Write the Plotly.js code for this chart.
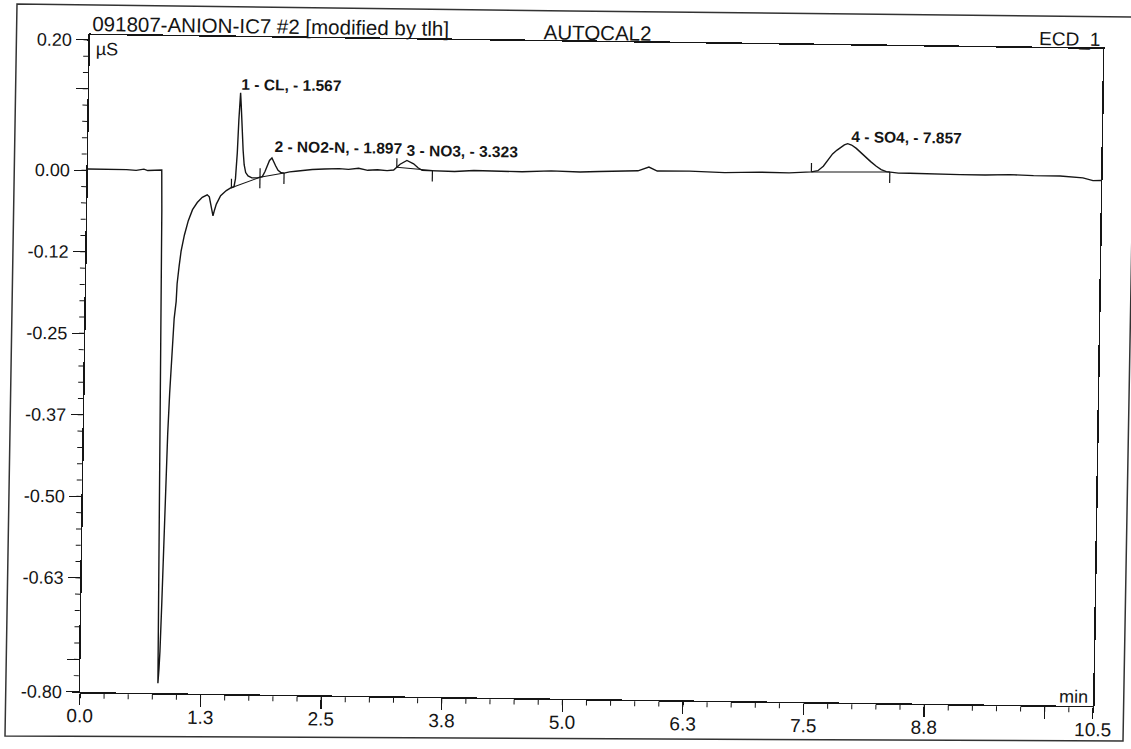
<!DOCTYPE html>
<html>
<head>
<meta charset="utf-8">
<script src="https://cdn.plot.ly/plotly-3.0.1.min.js"></script>
<style>
  html, body { margin: 0; padding: 0; background: #ffffff; overflow: hidden; }
  #wrap { position: absolute; left: 0; top: 0; width: 1131px; height: 749px; transform-origin: 0 0;
          transform: matrix(1.001, 0.01383, -0.01515, 0.9955, 4.55, -8.01); }
  #chart { position: absolute; left: 0; top: 0; width: 1131px; height: 749px; }
  #frame { position: absolute; left: 0; top: 0; pointer-events: none; }
</style>
</head>
<body>
<div id="wrap">
  <div id="chart"></div>
</div>
<svg id="frame" width="1131" height="749" xmlns="http://www.w3.org/2000/svg">
  <polyline points="1135,17 570,11 17,4 5,736 1123,741 1136,0" fill="none" stroke="#333" stroke-width="1.5"/>
</svg>
<script>
// ---- data ----
const timeMin = [
  0.00, 0.10, 0.20, 0.30, 0.40, 0.50, 0.58, 0.62, 0.70, 0.765,
  0.772, 0.785, 0.797, 0.806, 0.815, 0.822, 0.834, 0.846, 0.858, 0.868,
  0.882, 0.895, 0.917, 0.935, 0.942, 0.960, 0.978, 1.010, 1.048, 1.090,
  1.138, 1.189, 1.240, 1.262, 1.278, 1.303, 1.318, 1.336, 1.379, 1.437,
  1.482, 1.516, 1.530, 1.545, 1.556, 1.565, 1.570, 1.578, 1.590, 1.605,
  1.618, 1.635, 1.660, 1.700, 1.756, 1.808, 1.835, 1.857, 1.880, 1.905,
  1.925, 1.944, 1.970, 1.997, 2.032, 2.090, 2.153, 2.240, 2.325, 2.450,
  2.602, 2.700, 2.805, 2.900, 3.000, 3.100, 3.168, 3.234, 3.304, 3.374,
  3.420, 3.463, 3.600, 3.800, 4.000, 4.226, 4.500, 4.800, 5.100, 5.300,
  5.507, 5.700, 5.813, 5.900, 6.233, 6.600, 6.959, 7.266, 7.497, 7.564,
  7.620, 7.660, 7.714, 7.760, 7.802, 7.835, 7.869, 7.910, 7.959, 8.010,
  8.063, 8.110, 8.169, 8.220, 8.274, 8.400, 8.516, 8.800, 9.038, 9.300,
  9.557, 9.800, 10.075, 10.312, 10.417, 10.500
];
const signalUS = [
  0.002, 0.002, 0.003, 0.002, 0.002, 0.001, 0.003, 0.001, 0.002, 0.002,
  -0.060, -0.350, -0.660, -0.785, -0.762, -0.736, -0.659, -0.556, -0.480, -0.403,
  -0.340, -0.300, -0.225, -0.199, -0.172, -0.145, -0.122, -0.097, -0.075, -0.058,
  -0.047, -0.039, -0.035, -0.038, -0.049, -0.067, -0.058, -0.049, -0.036, -0.028,
  -0.024, -0.022, -0.010, 0.030, 0.080, 0.117, 0.122, 0.104, 0.068, 0.034,
  0.012, 0.000, -0.005, -0.008, -0.008, -0.006, 0.002, 0.011, 0.019, 0.023,
  0.018, 0.011, 0.004, 0.001, 0.000, 0.002, 0.003, 0.005, 0.006, 0.007,
  0.008, 0.007, 0.009, 0.006, 0.007, 0.006, 0.007, 0.016, 0.022, 0.017,
  0.011, 0.007, 0.007, 0.006, 0.008, 0.008, 0.007, 0.009, 0.008, 0.009,
  0.010, 0.011, 0.017, 0.011, 0.0115, 0.010, 0.0115, 0.011, 0.013, 0.015,
  0.022, 0.030, 0.041, 0.047, 0.052, 0.055, 0.057, 0.055, 0.050, 0.043,
  0.036, 0.030, 0.023, 0.018, 0.015, 0.013, 0.013, 0.012, 0.012, 0.012,
  0.013, 0.012, 0.012, 0.0095, 0.0055, 0.006
];

const peakNumbers = [1, 2, 3, 4];
const peakNames = ["CL", "NO2-N", "NO3", "SO4"];
const peakRetention = [1.567, 1.897, 3.323, 7.857];
const peakStart = [1.489, 1.784, 3.200, 7.497];
const peakEnd = [1.784, 2.033, 3.570, 8.310];

const xTickVals = [0, 1.25, 2.5, 3.75, 5, 6.25, 7.5, 8.75, 10, 10.5];
const xTickText = ["0.0", "1.3", "2.5", "3.8", "5.0", "6.3", "7.5", "8.8", "", "10.5"];
const yTickVals = [0.2, 0.125, 0, -0.125, -0.25, -0.375, -0.5, -0.625, -0.75, -0.8];
const yTickText = ["0.20", "", "0.00", "-0.12", "-0.25", "-0.37", "-0.50", "-0.63", "", "-0.80"];

const headerLeft = "091807-ANION-IC7 #2 [modified by tlh]";
const headerMid = "AUTOCAL2";
const headerRight = "ECD_1";
const yUnit = "µS";
const xUnit = "min";

// ---- helpers ----
function valueAt(t) {
  for (let i = 1; i < timeMin.length; i++) {
    if (t <= timeMin[i]) {
      const f = (t - timeMin[i - 1]) / (timeMin[i] - timeMin[i - 1]);
      return signalUS[i - 1] + f * (signalUS[i] - signalUS[i - 1]);
    }
  }
  return signalUS[signalUS.length - 1];
}
function apexNear(t) {
  let m = -Infinity;
  for (let i = 0; i < timeMin.length; i++) {
    if (Math.abs(timeMin[i] - t) < 0.07) m = Math.max(m, signalUS[i]);
  }
  return m;
}

const FONT = "Liberation Sans, Arial, Helvetica, sans-serif";
const INK = "#151515";

const trace = {
  x: timeMin, y: signalUS, type: "scatter", mode: "lines",
  line: { color: INK, width: 1.4 }, hoverinfo: "skip", showlegend: false
};

const shapes = [];
for (let i = 0; i < peakStart.length; i++) {
  const vs = valueAt(peakStart[i]);
  const ve = valueAt(peakEnd[i]);
  shapes.push({ type: "line", xref: "x", yref: "y", x0: peakStart[i], y0: vs, x1: peakEnd[i], y1: ve,
    line: { color: INK, width: 1 } });
  shapes.push({ type: "line", xref: "x", yref: "y", ysizemode: "pixel", yanchor: vs,
    x0: peakStart[i], x1: peakStart[i], y0: 0, y1: 9, line: { color: INK, width: 1.2 } });
  shapes.push({ type: "line", xref: "x", yref: "y", ysizemode: "pixel", yanchor: ve,
    x0: peakEnd[i], x1: peakEnd[i], y0: 0, y1: -11, line: { color: INK, width: 1.2 } });
}

const labelXShift = [0, 2, -3, 4];
const labelYShift = [9, 11, 10, 7];
const annotations = peakNames.map((n, i) => ({
  xref: "x", yref: "y", x: peakRetention[i], y: apexNear(peakRetention[i]),
  xanchor: "left", yanchor: "middle", xshift: labelXShift[i] - 1, yshift: labelYShift[i],
  text: "<b>" + peakNumbers[i] + " - " + n + ", - " + peakRetention[i].toFixed(3) + "</b>",
  showarrow: false, font: { family: FONT, size: 15.5, color: INK }
}));
annotations.push(
  { xref: "paper", yref: "paper", x: 0, y: 1, xanchor: "left", yanchor: "middle", yshift: 12,
    text: headerLeft, showarrow: false, font: { family: FONT, size: 20.5, color: INK } },
  { xref: "paper", yref: "paper", x: 0.5, y: 1, xanchor: "center", yanchor: "middle", yshift: 10, xshift: 1,
    text: headerMid, showarrow: false, font: { family: FONT, size: 20.5, color: INK } },
  { xref: "paper", yref: "paper", x: 1, y: 1, xanchor: "right", yanchor: "middle", yshift: 9, xshift: -1,
    text: headerRight, showarrow: false, font: { family: FONT, size: 19, color: INK } },
  { xref: "paper", yref: "paper", x: 0, y: 1, xanchor: "left", yanchor: "middle", yshift: -14, xshift: 4,
    text: yUnit, showarrow: false, font: { family: FONT, size: 18, color: INK } },
  { xref: "paper", yref: "paper", x: 1, y: 0, xanchor: "right", yanchor: "middle", yshift: 9, xshift: -3,
    text: xUnit, showarrow: false, font: { family: FONT, size: 18, color: INK } }
);

const axisCommon = {
  showgrid: false, zeroline: false, showline: true, linecolor: INK, linewidth: 1.5, mirror: true,
  ticks: "outside", ticklen: 12, tickwidth: 1.2, tickcolor: INK, tickmode: "array",
  fixedrange: true
};

const layout = {
  width: 1131, height: 749,
  margin: { l: 86, r: 33, t: 42, b: 47, pad: 0 },
  paper_bgcolor: "rgba(0,0,0,0)", plot_bgcolor: "rgba(0,0,0,0)",
  showlegend: false,
  xaxis: Object.assign({}, axisCommon, {
    range: [0, 10.5], tickvals: xTickVals, ticktext: xTickText, ticklabelstandoff: -6,
    tickfont: { family: FONT, size: 19, color: INK },
    minor: { tickmode: "linear", tick0: 0, dtick: 0.25, ticks: "outside", ticklen: 5, tickwidth: 1, tickcolor: INK }
  }),
  yaxis: Object.assign({}, axisCommon, {
    range: [-0.8, 0.2076], tickvals: yTickVals, ticktext: yTickText, ticklabelstandoff: 1,
    tickfont: { family: FONT, size: 18, color: INK },
    minor: { tickmode: "linear", tick0: 0, dtick: 0.025, ticks: "outside", ticklen: 5, tickwidth: 1, tickcolor: INK }
  }),
  shapes: shapes,
  annotations: annotations
};

Plotly.newPlot("chart", [trace], layout, { displayModeBar: false, staticPlot: true });
</script>
</body>
</html>
